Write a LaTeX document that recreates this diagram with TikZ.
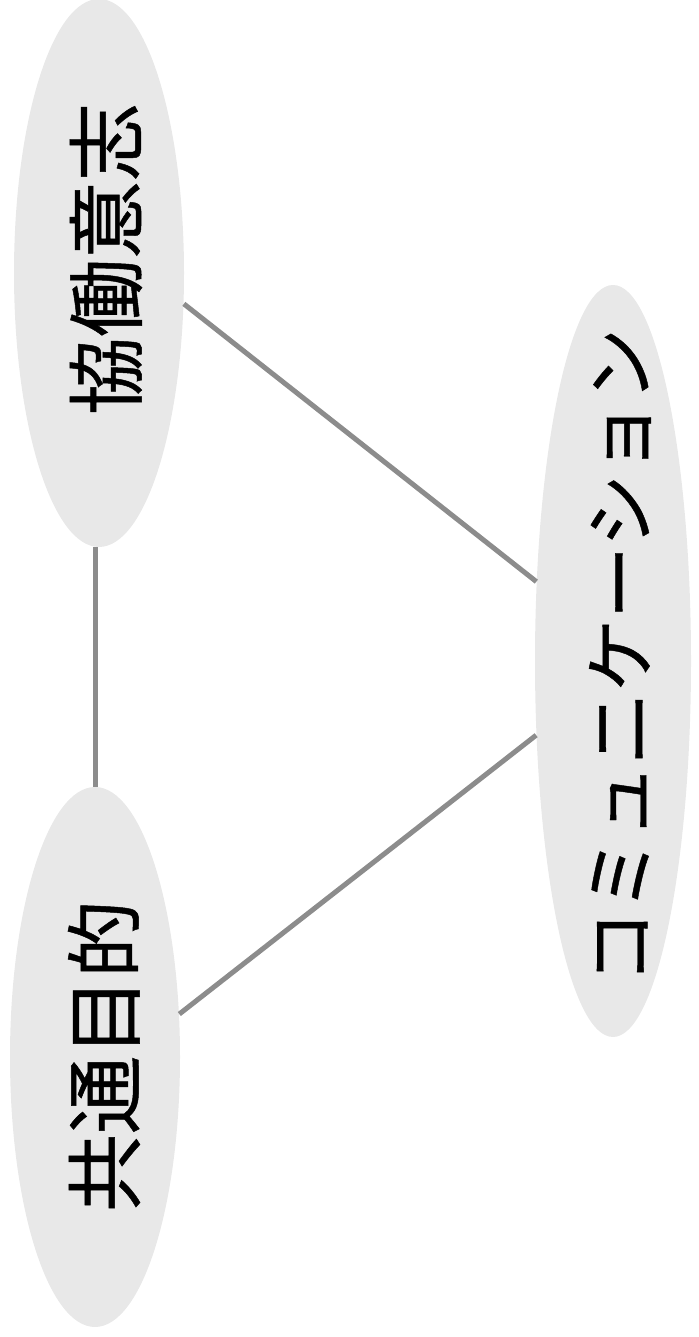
\documentclass[tikz,border=0pt]{standalone}
\usepackage{fontspec}
\usepackage{xcolor}
\usepackage{tikz}
\usetikzlibrary{shapes.geometric}
\newfontfamily\jpfont[FakeBold=0.6]{Noto Sans CJK JP}
\definecolor{bubblegray}{HTML}{E8E8E8}
\definecolor{linkgray}{HTML}{8C8C8C}
\tikzset{
  bubble/.style={ellipse, draw=none, fill=bubblegray, inner sep=0pt},
  bubbletext/.style={rotate=90, inner sep=0pt, font=\jpfont\fontsize{39pt}{41pt}\selectfont},
  link/.style={draw=linkgray, line width=2.5pt}
}

\begin{document}
\begin{tikzpicture}[x=0.5pt,y=0.5pt]
  \useasboundingbox (0,0) rectangle (698,1337);

  % the three ellipses
  \node[bubble, minimum width=85pt, minimum height=274pt] (kyodo) at (99,1064) {};
  \node[bubble, minimum width=85pt, minimum height=270pt] (mokuteki) at (95,280) {};
  \node[bubble, minimum width=78pt, minimum height=376pt] (comm) at (613,676) {};

  \node[bubbletext] (kyodo-txt) at (106,1078) {協働意志};
  \node[bubbletext] (mokuteki-txt) at (104,281) {共通目的};
  \node[bubbletext, font=\jpfont\fontsize{36.5pt}{38pt}\selectfont] (comm-txt) at (620,681) {コミュニケーション};

  % connectors
  \draw[link] (kyodo.-20) -- (comm.134);
  \draw[link] (mokuteki.27) -- (comm.224);
  \draw[link] (mokuteki.north) -- (mokuteki.north |- kyodo.south);
\end{tikzpicture}
\end{document}
